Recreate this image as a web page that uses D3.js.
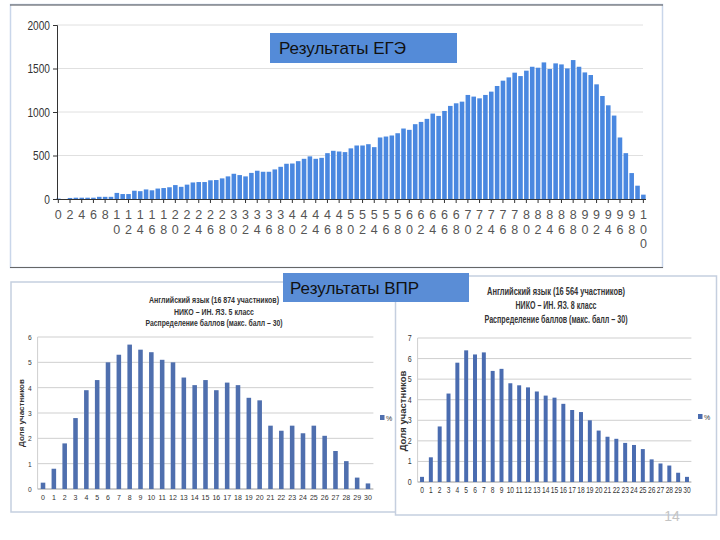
<!DOCTYPE html>
<html><head><meta charset="utf-8">
<script src="https://cdn.jsdelivr.net/npm/d3@7"></script>
<style>
html,body{margin:0;padding:0;background:#fff;}
svg{display:block;}
</style></head>
<body>
<svg id="c" width="720" height="540"></svg>
<script>
// ---------- DATA ----------
const egeScores = d3.range(0, 101);
const egeCounts = [5,0,12,15,15,15,15,25,25,25,
  70,57,57,95,90,110,100,120,126,135,
  160,140,165,190,195,195,215,218,237,260,
  290,275,260,300,325,313,313,340,370,405,
  408,435,462,490,462,473,527,554,546,539,
  582,615,615,630,596,707,718,730,756,810,
  795,860,886,921,982,955,1012,1070,1100,1119,
  1196,1177,1157,1196,1234,1299,1360,1398,1452,1413,
  1475,1520,1509,1570,1494,1559,1547,1501,1597,1520,
  1455,1425,1318,1184,1077,959,707,527,298,153,50];
const egeYTicks = [0, 500, 1000, 1500, 2000];
const vprScores = d3.range(0, 31);
const vpr5Share = [0.25,0.8,1.8,2.8,3.9,4.3,5.0,5.3,5.7,5.5,5.4,5.1,5.0,4.4,4.1,4.3,3.9,4.2,4.1,3.6,3.5,2.5,2.3,2.5,2.2,2.5,2.1,1.5,1.1,0.45,0.22];
const vpr8Share = [0.25,1.2,2.7,4.3,5.8,6.4,6.2,6.3,5.4,5.5,4.8,4.7,4.6,4.4,4.2,4.1,3.8,3.5,3.4,3.0,2.5,2.2,2.1,1.9,1.8,1.6,1.1,0.9,0.8,0.45,0.25];
const vpr5Ticks = [0,1,2,3,4,5,6];
const vpr8Ticks = [0,1,2,3,4,5,6,7];
const vpr5Title = ["Английский язык (16 874 участников)", "НИКО – ИН. ЯЗ. 5 класс", "Распределение баллов (макс. балл – 30)"];
const vpr8Title = ["Английский язык (16 564 участников)", "НИКО – ИН. ЯЗ. 8 класс", "Распределение баллов (макс. балл – 30)"];
const yAxisTitle = "Доля участников";
const legendLabel = "%";
const egeLabel = "Результаты ЕГЭ";
const vprLabel = "Результаты ВПР";
const pageNumber = "14";

const svg = d3.select("#c");
const sans = "'Liberation Sans',Arial,sans-serif";

// squeeze text horizontally by a factor
function squeeze(sel, f){
  sel.each(function(){
    const L = this.getComputedTextLength();
    d3.select(this).attr("textLength", L*f).attr("lengthAdjust","spacingAndGlyphs");
  });
}

// ---------- TOP PANEL (ЕГЭ) ----------
svg.append("rect").attr("x",10.5).attr("y",4.5).attr("width",652).attr("height",263)
  .attr("fill","#fff").attr("stroke","#c9d6ea").attr("stroke-width",1.5);
svg.append("line").attr("x1",10).attr("x2",663).attr("y1",5).attr("y2",5).attr("stroke","#555").attr("stroke-width",1.2);
svg.append("line").attr("x1",10).attr("x2",663).attr("y1",267.5).attr("y2",267.5).attr("stroke","#666").attr("stroke-width",1.2);

const xT = d3.scaleBand().domain(egeScores).range([55.4, 646.3]).paddingInner(0.22).paddingOuter(0.11);
const yT = d3.scaleLinear().domain([0, 2000]).range([199, 25]);

const gT = svg.append("g");
gT.selectAll("line.grid").data(egeYTicks.filter(d=>d>0)).join("line")
  .attr("x1",57).attr("x2",643).attr("y1",d=>yT(d)).attr("y2",d=>yT(d))
  .attr("stroke","#e0e0e0").attr("stroke-width",1);

gT.selectAll("rect.bar").data(egeScores).join("rect")
  .attr("x",d=>xT(d)).attr("width",xT.bandwidth())
  .attr("y",(d,i)=>yT(egeCounts[i])).attr("height",(d,i)=>yT(0)-yT(egeCounts[i]))
  .attr("fill","#4a88e0");

// y axis
const yAxisT = d3.axisLeft(yT).tickValues(egeYTicks).tickFormat(d3.format("d")).tickSize(4).tickPadding(3);
const ya = gT.append("g").attr("transform","translate(57,0)").call(yAxisT);
ya.select(".domain").attr("stroke","#333");
ya.selectAll(".tick line").attr("stroke","#333");
ya.selectAll("text").attr("font-family",sans).attr("font-size",13).attr("fill","#333");
squeeze(ya.selectAll("text"), 0.78);

// x axis
gT.append("line").attr("x1",55).attr("x2",646).attr("y1",199.5).attr("y2",199.5).attr("stroke","#333");
const evens = egeScores.filter(d=>d%2===0);
gT.selectAll("line.xt").data(evens).join("line")
  .attr("x1",d=>xT(d)+xT.bandwidth()/2).attr("x2",d=>xT(d)+xT.bandwidth()/2)
  .attr("y1",199).attr("y2",203).attr("stroke","#333");
const xl = gT.selectAll("text.xl").data(evens).join("text")
  .attr("font-family",sans).attr("font-size",12.5).attr("fill","#555").attr("text-anchor","middle");
xl.each(function(d){
  const t = d3.select(this); const cx = xT(d)+xT.bandwidth()/2;
  String(d).split("").forEach((ch,k)=>{
    t.append("tspan").attr("x",cx).attr("y",219+k*14.5).text(ch);
  });
});

// ЕГЭ label box
svg.append("rect").attr("x",270).attr("y",33).attr("width",187).attr("height",30).attr("fill","#548bd8");
svg.append("text").attr("x",279).attr("y",54).attr("font-family",sans).attr("font-size",17).attr("fill","#111").text(egeLabel);

// ---------- VPR panels ----------
function vprChart(o){
  const g = svg.append("g");
  g.append("rect").attr("x",o.px).attr("y",o.py).attr("width",o.pw).attr("height",o.ph)
    .attr("fill","#fff").attr("stroke","#c5cfdf").attr("stroke-width",1.5);
  const x = d3.scaleBand().domain(vprScores).range([o.x0, o.x1]).paddingInner(o.pad).paddingOuter(o.pad/2);
  const y = d3.scaleLinear().domain([0, o.ymax]).range([o.y0, o.y1]);
  g.selectAll("line.grid").data(o.ticks).join("line")
    .attr("x1",o.x0).attr("x2",o.x1).attr("y1",d=>y(d)).attr("y2",d=>y(d))
    .attr("stroke",d=>d===0?"#9a9a9a":"#cfcfcf").attr("stroke-width",1);
  g.append("line").attr("x1",o.x0).attr("x2",o.x0).attr("y1",o.y1).attr("y2",o.y0).attr("stroke","#cfcfcf");
  g.selectAll("rect.bar").data(vprScores).join("rect")
    .attr("x",d=>x(d)).attr("width",x.bandwidth())
    .attr("y",(d,i)=>y(o.vals[i])).attr("height",(d,i)=>y(0)-y(o.vals[i]))
    .attr("fill",o.color);
  const yt = g.selectAll("text.yt").data(o.ticks).join("text")
    .attr("x",o.x0-6).attr("y",d=>y(d)+3).attr("text-anchor","end")
    .attr("font-family",sans).attr("font-size",o.yfs).attr("fill","#333").text(d=>d);
  squeeze(yt, 0.85);
  const xt = g.selectAll("text.xt").data(vprScores).join("text")
    .attr("x",d=>x(d)+x.bandwidth()/2).attr("y",o.y0+11).attr("text-anchor","middle")
    .attr("font-family",sans).attr("font-size",o.xfs).attr("fill","#333").text(d=>d);
  squeeze(xt, o.xsq);
  o.title.forEach((t,k)=>{
    g.append("text").attr("x",o.tx).attr("y",o.ty+k*o.tdy).attr("text-anchor","middle")
      .attr("font-family",sans).attr("font-weight","bold").attr("font-size",o.tfs).attr("fill","#333")
      .attr("textLength",o.tw[k]).attr("lengthAdjust","spacingAndGlyphs").text(t);
  });
  g.append("text").attr("transform",`translate(${o.ylx},${o.yly}) rotate(-90)`).attr("text-anchor","middle")
    .attr("font-family",sans).attr("font-weight","bold").attr("font-size",o.ylfs).attr("fill","#333").text(yAxisTitle);
  g.append("rect").attr("x",o.lx).attr("y",o.ly-3).attr("width",4.5).attr("height",5).attr("fill",o.color);
  g.append("text").attr("x",o.lx+6).attr("y",o.ly+2.5).attr("font-family",sans).attr("font-size",7).attr("fill","#333").text(legendLabel);
}

vprChart({px:11, py:282, pw:386, ph:230, x0:37.6, x1:373.4, pad:0.58, y0:489, y1:337, ymax:6, ticks:vpr5Ticks,
  vals:vpr5Share, color:"#4f6fae", title:vpr5Title, tx:214, ty:303, tdy:11.5, tfs:9, tw:[130,80,137],
  xfs:7.8, xsq:0.9, yfs:7.8,
  ylx:24, yly:413, ylfs:8, lx:380, ly:418});
vprChart({px:395.5, py:276, pw:321, ph:239, x0:417.6, x1:691.4, pad:0.55, y0:482, y1:338, ymax:7, ticks:vpr8Ticks,
  vals:vpr8Share, color:"#4a6cb0", title:vpr8Title, tx:556, ty:295, tdy:14, tfs:10.3, tw:[138,81,143],
  xfs:8.5, xsq:0.78, yfs:8.3,
  ylx:406, yly:411, ylfs:9.5, lx:698, ly:417});

// ВПР label box
svg.append("rect").attr("x",283).attr("y",273).attr("width",186).attr("height",29).attr("fill","#5a8dd6");
svg.append("text").attr("x",290).attr("y",294).attr("font-family",sans).attr("font-size",17).attr("fill","#111").text(vprLabel);

// page number
svg.append("text").attr("x",672).attr("y",521).attr("text-anchor","middle").attr("font-family",sans)
  .attr("font-size",14).attr("fill","#c4c4c4").text(pageNumber);
</script>
</body></html>
